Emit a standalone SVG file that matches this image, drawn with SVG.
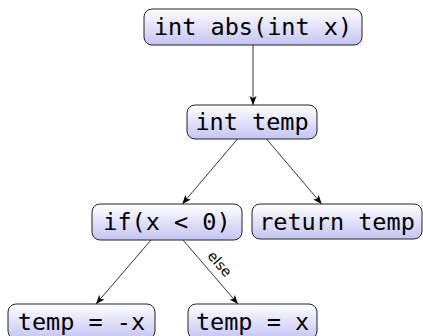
<svg xmlns="http://www.w3.org/2000/svg" width="423" height="336" viewBox="0 0 423 336">
<defs>
<linearGradient id="g" x1="0" y1="0" x2="0" y2="1">
<stop offset="0" stop-color="#ffffff"/>
<stop offset="1" stop-color="#c4c4f4"/>
</linearGradient>
<marker id="ah" viewBox="0 0 10 10" refX="10" refY="5" markerWidth="9" markerHeight="9" markerUnits="userSpaceOnUse" orient="auto">
<path d="M0,1 L10,5 L0,9 L2.5,5 Z" fill="#000"/>
</marker>
<style>
.box{fill:url(#g);stroke:#222;stroke-width:1}
.t{font-family:"DejaVu Sans Mono","Liberation Mono",monospace;font-size:23.5px;fill:#000;text-anchor:middle}
.e{stroke:#000;stroke-width:0.8;fill:none;marker-end:url(#ah)}
.lbl{font-family:"DejaVu Sans","Liberation Sans",sans-serif;font-size:14px;fill:#000;text-anchor:middle}
</style>
</defs>
<g id="connectors">
<line class="e" x1="253" y1="45" x2="253" y2="105"/>
<line class="e" x1="237.5" y1="139" x2="182.3" y2="204"/>
<line class="e" x1="266.5" y1="139" x2="321.7" y2="204"/>
<line class="e" x1="151" y1="240" x2="96" y2="304"/>
<line class="e" x1="183" y1="240" x2="238" y2="304"/>
<text class="lbl" transform="translate(216,267) rotate(49)">else</text>
</g>
<g id="n1"><rect class="box" x="144" y="9" width="218" height="36" rx="8"/><text class="t" x="253" y="35">int abs(int x)</text></g>
<g id="n2"><rect class="box" x="187" y="105" width="130" height="34" rx="8"/><text class="t" x="252" y="130">int temp</text></g>
<g id="n3"><rect class="box" x="92" y="204" width="150" height="36" rx="8"/><text class="t" x="167" y="230">if(x &lt; 0)</text></g>
<g id="n4"><rect class="box" x="252" y="204" width="170" height="35" rx="8"/><text class="t" x="337" y="230">return temp</text></g>
<g id="n5"><rect class="box" x="8" y="304" width="147" height="35" rx="8"/><text class="t" x="81.5" y="330">temp = -x</text></g>
<g id="n6"><rect class="box" x="188" y="304" width="129" height="35" rx="8"/><text class="t" x="252.5" y="330">temp = x</text></g>
</svg>
